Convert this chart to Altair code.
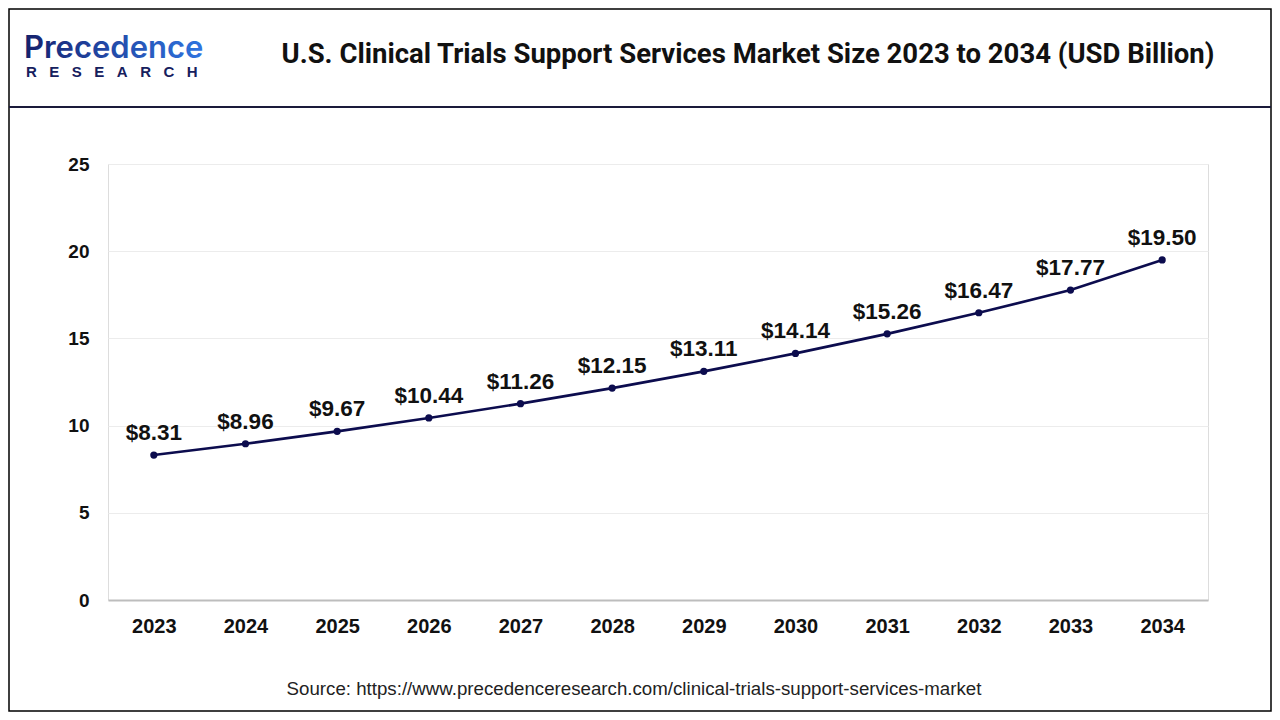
import altair as alt
import pandas as pd

years = ["2023", "2024", "2025", "2026", "2027", "2028", "2029", "2030", "2031", "2032", "2033", "2034"]
values = [8.31, 8.96, 9.67, 10.44, 11.26, 12.15, 13.11, 14.14, 15.26, 16.47, 17.77, 19.50]
labels = ["$" + f"{v:.2f}" for v in values]

title_text = "U.S. Clinical Trials Support Services Market Size 2023 to 2034 (USD Billion)"
source_text = "Source: https://www.precedenceresearch.com/clinical-trials-support-services-market"

df = pd.DataFrame({"year": years, "value": values, "label": labels})
one = pd.DataFrame({"k": [0]})

NAVY = "#0c0c4e"

x_enc = alt.X("year:O", title=None, sort=years,
              scale=alt.Scale(paddingInner=0, paddingOuter=0.5),
              axis=alt.Axis(labelAngle=0, labelFont="Liberation Sans", labelFontWeight="bold",
                            labelFontSize=20, labelColor="#111", labelPadding=16,
                            ticks=False, domain=True, domainColor="#bdbdbd", domainWidth=2,
                            grid=False))
y_enc = alt.Y("value:Q", title=None,
              scale=alt.Scale(domain=[0, 25], nice=False),
              axis=alt.Axis(values=[0, 5, 10, 15, 20, 25], labelFont="Liberation Sans",
                            labelFontWeight="bold", labelFontSize=19, labelColor="#111",
                            labelPadding=19, ticks=False, domain=False,
                            grid=True, gridColor="#ececec", gridWidth=1))

base = alt.Chart(df)
line = base.mark_line(color=NAVY, strokeWidth=2.6).encode(x=x_enc, y=y_enc)
pts = base.mark_circle(color=NAVY, size=52, opacity=1).encode(x="year:O", y="value:Q")
txt = base.mark_text(font="Liberation Sans", fontWeight="bold", fontSize=22.5, color="#111",
                     dy=-15, baseline="alphabetic").encode(x="year:O", y="value:Q", text="label:N")

# decorations (pixel positions relative to plot origin at page (108,164))
border = alt.Chart(one).mark_rect(fill=None, stroke="#000", strokeWidth=1.5).encode(
    x=alt.value(-99), x2=alt.value(1163), y=alt.value(-155), y2=alt.value(547))
header_line = alt.Chart(one).mark_rule(color="#1a1a3a", strokeWidth=2).encode(
    x=alt.value(-99), x2=alt.value(1163), y=alt.value(-57))
title = alt.Chart(one).mark_text(text=title_text, font="Roboto", fontWeight="bold",
                                  fontSize=27.5, color="#111", align="center", baseline="middle").encode(
    x=alt.value(640), y=alt.value(-109))
logo_grad = alt.Gradient(gradient="linear", x1=0, x2=1, y1=0, y2=0,
                         stops=[alt.GradientStop(color="#15206a", offset=0),
                                alt.GradientStop(color="#1f3f9a", offset=0.35),
                                alt.GradientStop(color="#2f74e0", offset=1)])
logo1 = alt.Chart(one).mark_text(text="Precedence", font="Inter", fontWeight=600,
                                  fontSize=31, color=logo_grad, align="left",
                                  baseline="alphabetic").encode(x=alt.value(-84), y=alt.value(-106))
logo2 = alt.Chart(one).mark_text(text="R\u00a0\u00a0\u00a0E\u00a0\u00a0\u00a0S\u00a0\u00a0\u00a0E\u00a0\u00a0\u00a0A\u00a0\u00a0\u00a0R\u00a0\u00a0\u00a0C\u00a0\u00a0\u00a0H",
                                  font="Liberation Sans", fontWeight="bold",
                                  fontSize=15, color="#16205e", align="left",
                                  baseline="alphabetic").encode(x=alt.value(-82), y=alt.value(-87))
source = alt.Chart(one).mark_text(text=source_text, font="Liberation Sans", fontSize=18.7,
                                   color="#222", align="center", baseline="middle").encode(
    x=alt.value(526), y=alt.value(525))

chart = alt.layer(line, pts, txt, border, header_line, title, logo1, logo2, source).properties(
    width=1100, height=436,
    autosize=alt.AutoSizeParams(type="none"),
    padding={"left": 100, "top": 156, "right": 64, "bottom": 112},
).configure_view(stroke=None).configure(background="white")

chart.save("out.html", embed_options={"renderer": "svg", "actions": False})
